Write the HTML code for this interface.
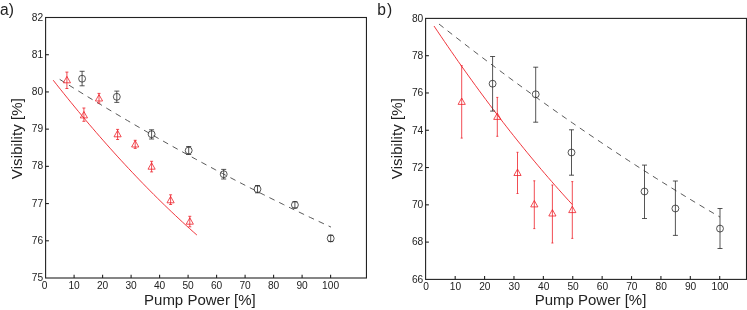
<!DOCTYPE html>
<html><head><meta charset="utf-8"><title>Visibility vs Pump Power</title>
<style>
html,body{margin:0;padding:0;background:#fff;}
body{width:747px;height:310px;overflow:hidden;font-family:"Liberation Sans",sans-serif;}
svg{display:block;will-change:transform;}
.tk{font-family:"Liberation Sans",sans-serif;font-size:10.2px;fill:#222;}
.lb{font-family:"Liberation Sans",sans-serif;font-size:15px;fill:#222;}
</style></head>
<body>
<svg width="747" height="310" viewBox="0 0 747 310">
<rect x="0" y="0" width="747" height="310" fill="#ffffff"/>
<rect x="45.6" y="17.5" width="320.84999999999997" height="260.5" fill="none" stroke="#222" stroke-width="1.1"/>
<text transform="translate(44.60,289.00) scale(1,1)" class="tk" text-anchor="middle">0</text>
<path d="M74.10,278.0 L74.10,274.7" stroke="#222" stroke-width="1.1"/>
<text transform="translate(74.10,289.00) scale(1,1)" class="tk" text-anchor="middle">10</text>
<path d="M102.60,278.0 L102.60,274.7" stroke="#222" stroke-width="1.1"/>
<text transform="translate(102.60,289.00) scale(1,1)" class="tk" text-anchor="middle">20</text>
<path d="M131.10,278.0 L131.10,274.7" stroke="#222" stroke-width="1.1"/>
<text transform="translate(131.10,289.00) scale(1,1)" class="tk" text-anchor="middle">30</text>
<path d="M159.60,278.0 L159.60,274.7" stroke="#222" stroke-width="1.1"/>
<text transform="translate(159.60,289.00) scale(1,1)" class="tk" text-anchor="middle">40</text>
<path d="M188.10,278.0 L188.10,274.7" stroke="#222" stroke-width="1.1"/>
<text transform="translate(188.10,289.00) scale(1,1)" class="tk" text-anchor="middle">50</text>
<path d="M216.60,278.0 L216.60,274.7" stroke="#222" stroke-width="1.1"/>
<text transform="translate(216.60,289.00) scale(1,1)" class="tk" text-anchor="middle">60</text>
<path d="M245.10,278.0 L245.10,274.7" stroke="#222" stroke-width="1.1"/>
<text transform="translate(245.10,289.00) scale(1,1)" class="tk" text-anchor="middle">70</text>
<path d="M273.60,278.0 L273.60,274.7" stroke="#222" stroke-width="1.1"/>
<text transform="translate(273.60,289.00) scale(1,1)" class="tk" text-anchor="middle">80</text>
<path d="M302.10,278.0 L302.10,274.7" stroke="#222" stroke-width="1.1"/>
<text transform="translate(302.10,289.00) scale(1,1)" class="tk" text-anchor="middle">90</text>
<path d="M330.60,278.0 L330.60,274.7" stroke="#222" stroke-width="1.1"/>
<text transform="translate(330.60,289.00) scale(1,1)" class="tk" text-anchor="middle">100</text>
<text transform="translate(43.2,281.00) scale(1,1)" class="tk" text-anchor="end">75</text>
<path d="M45.6,240.79 L48.9,240.79" stroke="#222" stroke-width="1.1"/>
<text transform="translate(43.2,243.79) scale(1,1)" class="tk" text-anchor="end">76</text>
<path d="M45.6,203.57 L48.9,203.57" stroke="#222" stroke-width="1.1"/>
<text transform="translate(43.2,206.57) scale(1,1)" class="tk" text-anchor="end">77</text>
<path d="M45.6,166.36 L48.9,166.36" stroke="#222" stroke-width="1.1"/>
<text transform="translate(43.2,169.36) scale(1,1)" class="tk" text-anchor="end">78</text>
<path d="M45.6,129.14 L48.9,129.14" stroke="#222" stroke-width="1.1"/>
<text transform="translate(43.2,132.14) scale(1,1)" class="tk" text-anchor="end">79</text>
<path d="M45.6,91.93 L48.9,91.93" stroke="#222" stroke-width="1.1"/>
<text transform="translate(43.2,94.93) scale(1,1)" class="tk" text-anchor="end">80</text>
<path d="M45.6,54.71 L48.9,54.71" stroke="#222" stroke-width="1.1"/>
<text transform="translate(43.2,57.71) scale(1,1)" class="tk" text-anchor="end">81</text>
<text transform="translate(43.2,20.50) scale(1,1)" class="tk" text-anchor="end">82</text>
<path d="M53.20,80.19 L56.79,84.75 L60.39,89.27 L63.98,93.76 L67.57,98.21 L71.16,102.63 L74.75,107.01 L78.35,111.36 L81.94,115.67 L85.53,119.95 L89.12,124.19 L92.72,128.40 L96.31,132.57 L99.90,136.70 L103.50,140.80 L107.09,144.87 L110.68,148.90 L114.27,152.90 L117.86,156.86 L121.46,160.78 L125.05,164.67 L128.64,168.52 L132.24,172.34 L135.83,176.13 L139.42,179.88 L143.01,183.59 L146.61,187.27 L150.20,190.91 L153.79,194.52 L157.38,198.09 L160.98,201.63 L164.57,205.13 L168.16,208.60 L171.75,212.03 L175.34,215.42 L178.94,218.79 L182.53,222.11 L186.12,225.40 L189.71,228.66 L193.31,231.88 L196.90,235.06" fill="none" stroke="#ee2028" stroke-width="0.9"/>
<path d="M59.70,79.36 L66.48,83.61 L73.27,87.84 L80.05,92.03 L86.83,96.20 L93.61,100.33 L100.40,104.44 L107.18,108.52 L113.96,112.58 L120.74,116.60 L127.53,120.59 L134.31,124.56 L141.09,128.50 L147.87,132.40 L154.66,136.28 L161.44,140.14 L168.22,143.96 L175.00,147.75 L181.79,151.52 L188.57,155.25 L195.35,158.96 L202.13,162.64 L208.92,166.29 L215.70,169.91 L222.48,173.51 L229.26,177.07 L236.05,180.61 L242.83,184.11 L249.61,187.59 L256.39,191.04 L263.18,194.46 L269.96,197.86 L276.74,201.22 L283.52,204.55 L290.31,207.86 L297.09,211.14 L303.87,214.39 L310.65,217.61 L317.44,220.80 L324.22,223.96 L331.00,227.10" fill="none" stroke="#2b2b2b" stroke-width="0.78" stroke-dasharray="5.8,5.145"/>
<path d="M66.90,72.10 L66.90,88.50 M65.40,72.10 L68.40,72.10 M65.40,88.50 L68.40,88.50" fill="none" stroke="#ee2028" stroke-width="0.8"/>
<path d="M63.30,82.80 L70.50,82.80 L66.90,76.40 Z" fill="none" stroke="#ee2028" stroke-width="0.8"/>
<path d="M83.90,108.00 L83.90,121.30 M82.40,108.00 L85.40,108.00 M82.40,121.30 L85.40,121.30" fill="none" stroke="#ee2028" stroke-width="0.8"/>
<path d="M80.30,117.90 L87.50,117.90 L83.90,111.50 Z" fill="none" stroke="#ee2028" stroke-width="0.8"/>
<path d="M99.00,93.40 L99.00,103.20 M97.50,93.40 L100.50,93.40 M97.50,103.20 L100.50,103.20" fill="none" stroke="#ee2028" stroke-width="0.8"/>
<path d="M95.40,101.00 L102.60,101.00 L99.00,94.60 Z" fill="none" stroke="#ee2028" stroke-width="0.8"/>
<path d="M117.60,129.40 L117.60,139.50 M116.10,129.40 L119.10,129.40 M116.10,139.50 L119.10,139.50" fill="none" stroke="#ee2028" stroke-width="0.8"/>
<path d="M114.00,136.80 L121.20,136.80 L117.60,130.40 Z" fill="none" stroke="#ee2028" stroke-width="0.8"/>
<path d="M135.20,140.30 L135.20,148.40 M133.70,140.30 L136.70,140.30 M133.70,148.40 L136.70,148.40" fill="none" stroke="#ee2028" stroke-width="0.8"/>
<path d="M131.60,147.00 L138.80,147.00 L135.20,140.60 Z" fill="none" stroke="#ee2028" stroke-width="0.8"/>
<path d="M151.60,161.30 L151.60,171.90 M150.10,161.30 L153.10,161.30 M150.10,171.90 L153.10,171.90" fill="none" stroke="#ee2028" stroke-width="0.8"/>
<path d="M148.00,169.20 L155.20,169.20 L151.60,162.80 Z" fill="none" stroke="#ee2028" stroke-width="0.8"/>
<path d="M170.60,194.80 L170.60,204.50 M169.10,194.80 L172.10,194.80 M169.10,204.50 L172.10,204.50" fill="none" stroke="#ee2028" stroke-width="0.8"/>
<path d="M167.00,202.80 L174.20,202.80 L170.60,196.40 Z" fill="none" stroke="#ee2028" stroke-width="0.8"/>
<path d="M189.80,216.30 L189.80,226.80 M188.30,216.30 L191.30,216.30 M188.30,226.80 L191.30,226.80" fill="none" stroke="#ee2028" stroke-width="0.8"/>
<path d="M186.20,224.20 L193.40,224.20 L189.80,217.80 Z" fill="none" stroke="#ee2028" stroke-width="0.8"/>
<path d="M82.10,71.30 L82.10,85.80 M79.60,71.30 L84.60,71.30 M79.60,85.80 L84.60,85.80" fill="none" stroke="#2b2b2b" stroke-width="0.8"/>
<circle cx="82.10" cy="78.70" r="3.45" fill="none" stroke="#2b2b2b" stroke-width="0.8"/>
<path d="M116.80,91.10 L116.80,102.40 M114.30,91.10 L119.30,91.10 M114.30,102.40 L119.30,102.40" fill="none" stroke="#2b2b2b" stroke-width="0.8"/>
<circle cx="116.80" cy="96.80" r="3.45" fill="none" stroke="#2b2b2b" stroke-width="0.8"/>
<path d="M151.60,129.80 L151.60,139.00 M149.10,129.80 L154.10,129.80 M149.10,139.00 L154.10,139.00" fill="none" stroke="#2b2b2b" stroke-width="0.8"/>
<circle cx="151.60" cy="134.20" r="3.45" fill="none" stroke="#2b2b2b" stroke-width="0.8"/>
<path d="M188.70,146.50 L188.70,154.50 M186.20,146.50 L191.20,146.50 M186.20,154.50 L191.20,154.50" fill="none" stroke="#2b2b2b" stroke-width="0.8"/>
<circle cx="188.70" cy="150.50" r="3.45" fill="none" stroke="#2b2b2b" stroke-width="0.8"/>
<path d="M223.70,169.40 L223.70,179.00 M221.20,169.40 L226.20,169.40 M221.20,179.00 L226.20,179.00" fill="none" stroke="#2b2b2b" stroke-width="0.8"/>
<circle cx="223.70" cy="174.20" r="3.45" fill="none" stroke="#2b2b2b" stroke-width="0.8"/>
<path d="M257.50,185.50 L257.50,192.80 M255.00,185.50 L260.00,185.50 M255.00,192.80 L260.00,192.80" fill="none" stroke="#2b2b2b" stroke-width="0.8"/>
<circle cx="257.50" cy="189.10" r="3.45" fill="none" stroke="#2b2b2b" stroke-width="0.8"/>
<path d="M294.90,201.70 L294.90,208.10 M292.40,201.70 L297.40,201.70 M292.40,208.10 L297.40,208.10" fill="none" stroke="#2b2b2b" stroke-width="0.8"/>
<circle cx="294.90" cy="204.90" r="3.45" fill="none" stroke="#2b2b2b" stroke-width="0.8"/>
<path d="M330.70,235.20 L330.70,241.60 M328.20,235.20 L333.20,235.20 M328.20,241.60 L333.20,241.60" fill="none" stroke="#2b2b2b" stroke-width="0.8"/>
<circle cx="330.70" cy="238.40" r="3.45" fill="none" stroke="#2b2b2b" stroke-width="0.8"/>
<rect x="425.6" y="18.4" width="320.9" height="261.0" fill="none" stroke="#222" stroke-width="1.1"/>
<text transform="translate(426.10,290.30) scale(1,1)" class="tk" text-anchor="middle">0</text>
<path d="M455.19,279.4 L455.19,276.09999999999997" stroke="#222" stroke-width="1.1"/>
<text transform="translate(455.49,290.30) scale(1,1)" class="tk" text-anchor="middle">10</text>
<path d="M484.58,279.4 L484.58,276.09999999999997" stroke="#222" stroke-width="1.1"/>
<text transform="translate(484.88,290.30) scale(1,1)" class="tk" text-anchor="middle">20</text>
<path d="M513.97,279.4 L513.97,276.09999999999997" stroke="#222" stroke-width="1.1"/>
<text transform="translate(514.27,290.30) scale(1,1)" class="tk" text-anchor="middle">30</text>
<path d="M543.36,279.4 L543.36,276.09999999999997" stroke="#222" stroke-width="1.1"/>
<text transform="translate(543.66,290.30) scale(1,1)" class="tk" text-anchor="middle">40</text>
<path d="M572.75,279.4 L572.75,276.09999999999997" stroke="#222" stroke-width="1.1"/>
<text transform="translate(573.05,290.30) scale(1,1)" class="tk" text-anchor="middle">50</text>
<path d="M602.14,279.4 L602.14,276.09999999999997" stroke="#222" stroke-width="1.1"/>
<text transform="translate(602.44,290.30) scale(1,1)" class="tk" text-anchor="middle">60</text>
<path d="M631.53,279.4 L631.53,276.09999999999997" stroke="#222" stroke-width="1.1"/>
<text transform="translate(631.83,290.30) scale(1,1)" class="tk" text-anchor="middle">70</text>
<path d="M660.92,279.4 L660.92,276.09999999999997" stroke="#222" stroke-width="1.1"/>
<text transform="translate(661.22,290.30) scale(1,1)" class="tk" text-anchor="middle">80</text>
<path d="M690.31,279.4 L690.31,276.09999999999997" stroke="#222" stroke-width="1.1"/>
<text transform="translate(690.61,290.30) scale(1,1)" class="tk" text-anchor="middle">90</text>
<path d="M719.70,279.4 L719.70,276.09999999999997" stroke="#222" stroke-width="1.1"/>
<text transform="translate(720.00,290.30) scale(1,1)" class="tk" text-anchor="middle">100</text>
<text transform="translate(423.3,282.70) scale(1,1)" class="tk" text-anchor="end">66</text>
<path d="M425.6,242.11 L428.90000000000003,242.11" stroke="#222" stroke-width="1.1"/>
<text transform="translate(423.3,245.41) scale(1,1)" class="tk" text-anchor="end">68</text>
<path d="M425.6,204.83 L428.90000000000003,204.83" stroke="#222" stroke-width="1.1"/>
<text transform="translate(423.3,208.13) scale(1,1)" class="tk" text-anchor="end">70</text>
<path d="M425.6,167.54 L428.90000000000003,167.54" stroke="#222" stroke-width="1.1"/>
<text transform="translate(423.3,170.84) scale(1,1)" class="tk" text-anchor="end">72</text>
<path d="M425.6,130.26 L428.90000000000003,130.26" stroke="#222" stroke-width="1.1"/>
<text transform="translate(423.3,133.56) scale(1,1)" class="tk" text-anchor="end">74</text>
<path d="M425.6,92.97 L428.90000000000003,92.97" stroke="#222" stroke-width="1.1"/>
<text transform="translate(423.3,96.27) scale(1,1)" class="tk" text-anchor="end">76</text>
<path d="M425.6,55.69 L428.90000000000003,55.69" stroke="#222" stroke-width="1.1"/>
<text transform="translate(423.3,58.99) scale(1,1)" class="tk" text-anchor="end">78</text>
<text transform="translate(423.3,21.70) scale(1,1)" class="tk" text-anchor="end">80</text>
<path d="M434.00,26.00 L437.46,31.16 L440.92,36.28 L444.37,41.37 L447.83,46.42 L451.29,51.43 L454.75,56.41 L458.20,61.36 L461.66,66.26 L465.12,71.14 L468.57,75.98 L472.03,80.78 L475.49,85.54 L478.95,90.27 L482.40,94.97 L485.86,99.63 L489.32,104.25 L492.78,108.84 L496.23,113.39 L499.69,117.91 L503.15,122.39 L506.61,126.84 L510.06,131.25 L513.52,135.62 L516.98,139.96 L520.44,144.26 L523.89,148.53 L527.35,152.76 L530.81,156.96 L534.27,161.12 L537.72,165.24 L541.18,169.33 L544.64,173.39 L548.10,177.40 L551.55,181.39 L555.01,185.33 L558.47,189.25 L561.93,193.12 L565.38,196.96 L568.84,200.77 L572.30,204.53" fill="none" stroke="#ee2028" stroke-width="0.9"/>
<path d="M439.00,24.02 L446.02,29.55 L453.05,35.05 L460.07,40.51 L467.10,45.93 L474.12,51.32 L481.15,56.67 L488.18,61.99 L495.20,67.27 L502.23,72.51 L509.25,77.72 L516.27,82.89 L523.30,88.02 L530.33,93.12 L537.35,98.18 L544.38,103.21 L551.40,108.19 L558.42,113.15 L565.45,118.06 L572.48,122.94 L579.50,127.79 L586.52,132.60 L593.55,137.37 L600.58,142.10 L607.60,146.80 L614.62,151.47 L621.65,156.09 L628.67,160.68 L635.70,165.24 L642.73,169.76 L649.75,174.24 L656.77,178.69 L663.80,183.09 L670.83,187.47 L677.85,191.81 L684.88,196.11 L691.90,200.37 L698.92,204.60 L705.95,208.79 L712.98,212.95 L720.00,217.07" fill="none" stroke="#2b2b2b" stroke-width="0.78" stroke-dasharray="5.8,5.145"/>
<path d="M461.70,65.70 L461.70,138.10 M460.70,65.70 L462.70,65.70 M460.70,138.10 L462.70,138.10" fill="none" stroke="#ee2028" stroke-width="0.8"/>
<path d="M458.10,104.40 L465.30,104.40 L461.70,98.00 Z" fill="none" stroke="#ee2028" stroke-width="0.8"/>
<path d="M497.30,97.40 L497.30,136.30 M496.30,97.40 L498.30,97.40 M496.30,136.30 L498.30,136.30" fill="none" stroke="#ee2028" stroke-width="0.8"/>
<path d="M493.70,119.40 L500.90,119.40 L497.30,113.00 Z" fill="none" stroke="#ee2028" stroke-width="0.8"/>
<path d="M517.50,152.30 L517.50,193.50 M516.50,152.30 L518.50,152.30 M516.50,193.50 L518.50,193.50" fill="none" stroke="#ee2028" stroke-width="0.8"/>
<path d="M513.90,175.50 L521.10,175.50 L517.50,169.10 Z" fill="none" stroke="#ee2028" stroke-width="0.8"/>
<path d="M534.30,180.80 L534.30,228.60 M533.30,180.80 L535.30,180.80 M533.30,228.60 L535.30,228.60" fill="none" stroke="#ee2028" stroke-width="0.8"/>
<path d="M530.70,206.90 L537.90,206.90 L534.30,200.50 Z" fill="none" stroke="#ee2028" stroke-width="0.8"/>
<path d="M552.40,185.00 L552.40,243.00 M551.40,185.00 L553.40,185.00 M551.40,243.00 L553.40,243.00" fill="none" stroke="#ee2028" stroke-width="0.8"/>
<path d="M548.80,216.00 L556.00,216.00 L552.40,209.60 Z" fill="none" stroke="#ee2028" stroke-width="0.8"/>
<path d="M572.30,181.60 L572.30,238.40 M571.30,181.60 L573.30,181.60 M571.30,238.40 L573.30,238.40" fill="none" stroke="#ee2028" stroke-width="0.8"/>
<path d="M568.70,212.60 L575.90,212.60 L572.30,206.20 Z" fill="none" stroke="#ee2028" stroke-width="0.8"/>
<path d="M492.60,56.50 L492.60,111.10 M490.10,56.50 L495.10,56.50 M490.10,111.10 L495.10,111.10" fill="none" stroke="#2b2b2b" stroke-width="0.8"/>
<circle cx="492.60" cy="83.70" r="3.45" fill="none" stroke="#2b2b2b" stroke-width="0.8"/>
<path d="M535.70,67.20 L535.70,122.20 M533.20,67.20 L538.20,67.20 M533.20,122.20 L538.20,122.20" fill="none" stroke="#2b2b2b" stroke-width="0.8"/>
<circle cx="535.70" cy="94.30" r="3.45" fill="none" stroke="#2b2b2b" stroke-width="0.8"/>
<path d="M571.50,129.80 L571.50,175.20 M569.00,129.80 L574.00,129.80 M569.00,175.20 L574.00,175.20" fill="none" stroke="#2b2b2b" stroke-width="0.8"/>
<circle cx="571.50" cy="152.50" r="3.45" fill="none" stroke="#2b2b2b" stroke-width="0.8"/>
<path d="M644.50,165.10 L644.50,218.50 M642.00,165.10 L647.00,165.10 M642.00,218.50 L647.00,218.50" fill="none" stroke="#2b2b2b" stroke-width="0.8"/>
<circle cx="644.50" cy="191.50" r="3.45" fill="none" stroke="#2b2b2b" stroke-width="0.8"/>
<path d="M675.40,181.00 L675.40,235.40 M672.90,181.00 L677.90,181.00 M672.90,235.40 L677.90,235.40" fill="none" stroke="#2b2b2b" stroke-width="0.8"/>
<circle cx="675.40" cy="208.50" r="3.45" fill="none" stroke="#2b2b2b" stroke-width="0.8"/>
<path d="M720.00,208.50 L720.00,248.50 M717.50,208.50 L722.50,208.50 M717.50,248.50 L722.50,248.50" fill="none" stroke="#2b2b2b" stroke-width="0.8"/>
<circle cx="720.00" cy="228.60" r="3.45" fill="none" stroke="#2b2b2b" stroke-width="0.8"/>
<text x="0" y="15.2" class="lb" style="font-size:15.6px">a)</text>
<text x="377.3" y="15.2" class="lb" style="font-size:15.6px">b<tspan dx="1.1">)</tspan></text>
<text x="199.9" y="305.3" class="lb" text-anchor="middle">Pump Power [%]</text>
<text x="590.5" y="305.3" class="lb" text-anchor="middle">Pump Power [%]</text>
<text transform="translate(22,138.6) rotate(-90)" class="lb" text-anchor="middle" textLength="81.2">Visibility [%]</text>
<text transform="translate(402,138.6) rotate(-90)" class="lb" text-anchor="middle" textLength="81.2">Visibility [%]</text>
</svg>
</body></html>
